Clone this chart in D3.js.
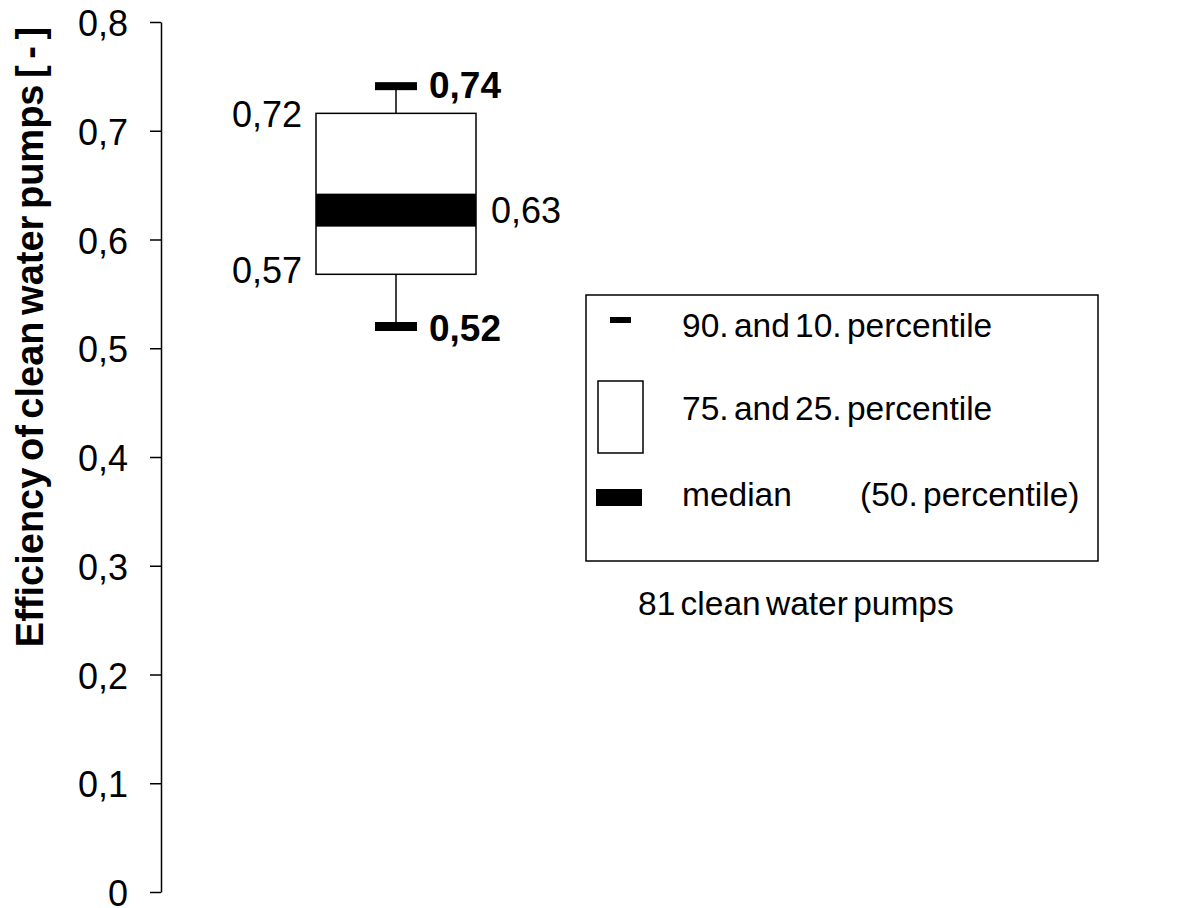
<!DOCTYPE html>
<html><head><meta charset="utf-8">
<script src="https://cdn.jsdelivr.net/npm/d3@7"></script>
<style>
body{margin:0;background:#fff;}
text{font-family:"Liberation Sans",Arial,sans-serif;fill:#000;}
</style></head>
<body>
<svg id="c" width="1188" height="908"></svg>
<script>
const categories = ["clean water pumps"];
const p10 = [0.52];
const p25 = [0.568];
const median = [0.627];
const p75 = [0.716];
const p90 = [0.741];
const labelP10 = ["0,52"];
const labelP25 = ["0,57"];
const labelMedian = ["0,63"];
const labelP75 = ["0,72"];
const labelP90 = ["0,74"];
const yTicks = [0, 0.1, 0.2, 0.3, 0.4, 0.5, 0.6, 0.7, 0.8];
const yTickLabels = ["0", "0,1", "0,2", "0,3", "0,4", "0,5", "0,6", "0,7", "0,8"];
const legendItems = ["90. and 10. percentile", "75. and 25. percentile", "median"];
const legendExtra = "(50. percentile)";
const note = "81 clean water pumps";
const yTitle = "Efficiency of clean water pumps [ - ]";

const svg = d3.select("#c");
const y = d3.scaleLinear().domain([0, 0.8]).range([892, 22]);
const x = d3.scaleBand().domain(categories).range([316, 476]).padding(0);

// axis
const axis = d3.axisLeft(y).tickValues(yTicks).tickSize(11).tickSizeOuter(0).tickPadding(22)
  .tickFormat((d, i) => yTickLabels[i]);
const ag = svg.append("g").attr("transform", "translate(161,0)").call(axis);
ag.select(".domain").attr("stroke", "#000").attr("stroke-width", 1.5);
ag.selectAll(".tick line").attr("stroke", "#000").attr("stroke-width", 1.5);
ag.selectAll(".tick text").style("font-size", "36px").style("font-family", '"Liberation Sans",Arial,sans-serif').attr("dy", "0.38em");

// title
svg.append("text").attr("transform", "translate(43,337) rotate(-90)")
  .attr("text-anchor", "middle").style("font-size", "38px").style("font-weight", "bold")
  .style("word-spacing", "-4px").text(yTitle);

// boxes
categories.forEach((c, i) => {
  const x0 = x(c), w = x.bandwidth(), cx = x0 + w / 2;
  const capW = 42;
  const g = svg.append("g");
  g.append("line").attr("x1", cx).attr("x2", cx).attr("y1", y(p90[i])).attr("y2", y(p75[i]))
    .attr("stroke", "#000").attr("stroke-width", 1.5);
  g.append("line").attr("x1", cx).attr("x2", cx).attr("y1", y(p25[i])).attr("y2", y(p10[i]))
    .attr("stroke", "#000").attr("stroke-width", 1.5);
  g.append("rect").attr("x", cx - capW / 2).attr("width", capW).attr("y", y(p90[i]) - 4).attr("height", 8).attr("fill", "#000");
  g.append("rect").attr("x", cx - capW / 2).attr("width", capW).attr("y", y(p10[i]) - 4.5).attr("height", 9).attr("fill", "#000");
  g.append("rect").attr("x", x0).attr("width", w).attr("y", y(p75[i])).attr("height", y(p25[i]) - y(p75[i]))
    .attr("fill", "#fff").attr("stroke", "#000").attr("stroke-width", 1.5);
  g.append("rect").attr("x", x0).attr("width", w).attr("y", y(median[i]) - 16.5).attr("height", 33).attr("fill", "#000");
  g.append("text").attr("x", cx + capW / 2 + 12).attr("y", y(p90[i]) + 12).style("font-size", "37px").style("font-weight", "bold").text(labelP90[i]);
  g.append("text").attr("x", cx + capW / 2 + 12).attr("y", y(p10[i]) + 14).style("font-size", "37px").style("font-weight", "bold").text(labelP10[i]);
  g.append("text").attr("x", x0 - 14).attr("y", y(p75[i]) + 14).attr("text-anchor", "end").style("font-size", "36px").text(labelP75[i]);
  g.append("text").attr("x", x0 - 14).attr("y", y(p25[i]) + 9).attr("text-anchor", "end").style("font-size", "36px").text(labelP25[i]);
  g.append("text").attr("x", x0 + w + 15).attr("y", y(median[i]) + 13).style("font-size", "36px").text(labelMedian[i]);
});

// legend
const lg = svg.append("g");
lg.append("rect").attr("x", 586).attr("y", 295).attr("width", 512).attr("height", 266)
  .attr("fill", "#fff").attr("stroke", "#000").attr("stroke-width", 1.5);
lg.append("rect").attr("x", 610).attr("y", 317).attr("width", 21).attr("height", 6).attr("fill", "#000");
lg.append("rect").attr("x", 598).attr("y", 381).attr("width", 45).attr("height", 72).attr("fill", "#fff").attr("stroke", "#000").attr("stroke-width", 1.5);
lg.append("rect").attr("x", 596).attr("y", 489).attr("width", 46).attr("height", 17).attr("fill", "#000");
const ly = [337, 420, 506];
legendItems.forEach((t, i) => {
  lg.append("text").attr("x", 682).attr("y", ly[i]).style("font-size", "33.5px").style("word-spacing", "-4px").text(t);
});
lg.append("text").attr("x", 860).attr("y", 506).style("font-size", "33.5px").style("word-spacing", "-4px").text(legendExtra);
svg.append("text").attr("x", 638).attr("y", 615).style("font-size", "33.5px").style("word-spacing", "-4px").text(note);
</script>
</body></html>
